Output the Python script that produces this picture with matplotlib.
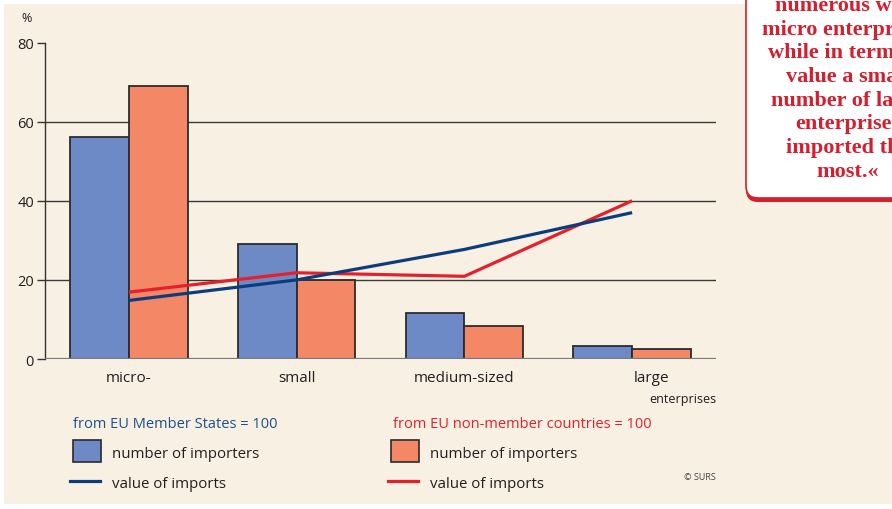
import matplotlib
matplotlib.use("Agg")
import matplotlib.pyplot as plt
import matplotlib.transforms as mtransforms
import numpy as np
from matplotlib.lines import Line2D
from matplotlib.patches import FancyBboxPatch, Rectangle

# data
categories = ["micro-", "small", "medium-sized", "large"]
eu_importers = [56, 29, 11.6, 3.2]
non_eu_importers = [69, 20, 8.3, 2.5]
eu_value = [14.8, 20.0, 27.7, 37.0]
non_eu_value = [16.9, 21.8, 20.9, 40.0]
y_ticks = [0, 20, 40, 60, 80]
grid_levels = [20, 40, 60]
callout_lines = [
    "numerous were",
    "micro enterprises,",
    "while in terms of",
    "value a small",
    "number of large",
    "enterprises",
    "imported the",
    "most.«",
]

CREAM = "#F8F0E3"
BAR_BLUE = "#6D8AC6"
BAR_ORANGE = "#F38766"
NAVY = "#0B3D7C"
RED = "#E6202B"
HEAD_BLUE = "#1D4F8C"
DARK = "#231F20"
CALLOUT_RED = "#D31F2E"

W, H = 892, 510
plt.rcParams["font.family"] = ["Open Sans", "DejaVu Sans"]

fig = plt.figure(figsize=(W / 100, H / 100), dpi=100)
fig.patch.set_facecolor("white")


def fx(x):
    return x / W


def fy(y):
    return 1 - y / H


# cream panel
fig.patches.append(Rectangle((fx(4), fy(505)), 1 - fx(4), fy(5) - fy(505),
                             transform=fig.transFigure, facecolor=CREAM,
                             edgecolor="none", zorder=-5))

ax = fig.add_axes([fx(45), fy(360), fx(716) - fx(45), fy(43.5) - fy(360)])
ax.patch.set_visible(False)
ax.set_zorder(1)

x = np.arange(len(categories))
width = 0.35
for level in grid_levels:
    ax.axhline(level, color="#3a3a3a", lw=1.0, zorder=1)
ax.bar(x - width / 2, eu_importers, width, color=BAR_BLUE, edgecolor="#2b2b2b",
       linewidth=1.3, zorder=2)
ax.bar(x + width / 2, non_eu_importers, width, color=BAR_ORANGE, edgecolor="#2b2b2b",
       linewidth=1.3, zorder=2)
ax.axhline(0, color="#7a7a7a", lw=1.6, zorder=3)
ax.plot(x, non_eu_value, color=RED, lw=2.3, zorder=4, solid_capstyle="butt")
ax.plot(x, eu_value, color=NAVY, lw=2.3, zorder=5, solid_capstyle="butt")

ax.set_xlim(-0.5, 3.5)
ax.set_ylim(0, 80)
for side in ["top", "right", "bottom"]:
    ax.spines[side].set_visible(False)
ax.spines["left"].set_color("#333333")
ax.spines["left"].set_linewidth(1.0)
ax.set_yticks(y_ticks)
ax.tick_params(axis="y", length=6, width=1, color="#333333", pad=2,
               labelsize=10.5, labelcolor=DARK)
ax.set_xticks(x)
ax.set_xticklabels(categories, fontsize=11, color=DARK)
ax.tick_params(axis="x", length=0, pad=8)
# the "large" label sits a little right of its group
last = ax.get_xticklabels()[-1]
last.set_transform(last.get_transform() + mtransforms.ScaledTranslation(19 / 100, 0, fig.dpi_scale_trans))

fig.text(fx(27), fy(18), "%", ha="center", va="center", fontsize=9, color=DARK)
fig.text(fx(716), fy(400), "enterprises", ha="right", va="center", fontsize=9, color=DARK)

# legend
fig.text(fx(73), fy(424), "from EU Member States = 100", va="center", fontsize=10.5, color=HEAD_BLUE)
fig.text(fx(393), fy(424), "from EU non-member countries = 100", va="center", fontsize=10.5, color=RED)
for x0, fill, lc in [(73, BAR_BLUE, NAVY), (391, BAR_ORANGE, RED)]:
    fig.patches.append(Rectangle((fx(x0), fy(463)), fx(28), (463 - 441) / H,
                                 transform=fig.transFigure, facecolor=fill,
                                 edgecolor="#2b2b2b", lw=1.2, zorder=2))
    fig.lines.append(Line2D([fx(x0 - 3), fx(x0 + 27)], [fy(482), fy(482)],
                            transform=fig.transFigure, color=lc, lw=2.3))
for tx in [112, 430]:
    fig.text(fx(tx), fy(455), "number of importers", va="center", fontsize=10.8, color=DARK)
    fig.text(fx(tx), fy(485), "value of imports", va="center", fontsize=10.8, color=DARK)
fig.text(fx(716), fy(478), "© SURS", ha="right", va="center", fontsize=6.5, color="#444444")

# callout box on the right
ident = mtransforms.IdentityTransform()
shadow = FancyBboxPatch((746, H - 203), 200, 260, boxstyle="round,pad=0,rounding_size=12",
                        transform=ident, facecolor=CALLOUT_RED, edgecolor="none", zorder=5)
box = FancyBboxPatch((746, H - 199), 200, 260, boxstyle="round,pad=0,rounding_size=12",
                     transform=ident, facecolor="white", edgecolor=CALLOUT_RED, lw=1.2, zorder=6)
fig.patches.append(shadow)
fig.patches.append(box)
for i, line in enumerate(callout_lines):
    fig.text(fx(848), fy(6 + i * 23.7), line, ha="center", va="center",
             fontsize=16, fontweight="bold", family="Liberation Serif",
             color=CALLOUT_RED, zorder=7)

fig.savefig("out.png", dpi=100)
